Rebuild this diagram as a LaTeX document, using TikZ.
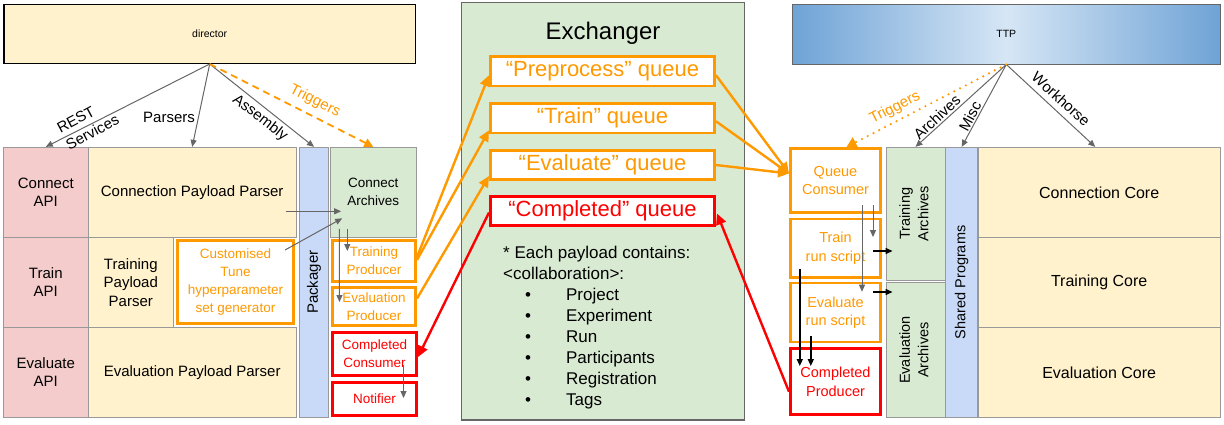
\documentclass[tikz,border=0pt]{standalone}
\usepackage{fontspec}
\setmainfont{Liberation Sans}
\usepackage{graphicx}
\usetikzlibrary{arrows.meta}

\definecolor{ordr}{HTML}{FF9900}
\definecolor{redq}{HTML}{FF0000}
\definecolor{cellline}{HTML}{999999}
\definecolor{arrgrey}{HTML}{666666}
\definecolor{apifill}{HTML}{F4CCCC}
\definecolor{yelfill}{HTML}{FFF2CC}
\definecolor{grnfill}{HTML}{D9EAD3}
\definecolor{blufill}{HTML}{C9DAF8}
\definecolor{ttpedge}{HTML}{6FA3D6}
\definecolor{ttpmid}{HTML}{D6E6F5}

\tikzset{
  wh/.style 2 args={minimum width=#1pt, minimum height=#2pt},
  cell/.style={draw=cellline, line width=0.9pt, inner sep=0pt, align=center,
    font=\fontsize{15}{18.5}\selectfont},
  obox/.style={draw=ordr, line width=2.6pt, fill=white, text=ordr, inner sep=0pt,
    align=center, font=\fontsize{13.5}{18}\selectfont},
  rbox/.style={obox, draw=redq, text=redq, line width=3pt},
  rcol/.style={font=\fontsize{14.5}{18.5}\selectfont},
  queue/.style={obox, wh={224.4}{29.4}, font=\fontsize{22}{24}\selectfont},
  lab/.style={inner sep=1pt, font=\fontsize{15}{19}\selectfont},
  garrow/.style={draw=arrgrey, line width=1pt, -{Triangle[length=7pt,width=6pt]}},
  karrow/.style={draw=black, line width=1.4pt, -{Triangle[length=7pt,width=6pt]}},
  oarrow/.style={draw=ordr, line width=2.4pt, -{Triangle[length=11pt,width=10pt]}},
  rarrow/.style={draw=redq, line width=2.4pt, -{Triangle[length=11pt,width=10pt]}}
}

\begin{document}
\begin{tikzpicture}[x=1pt, y=-1pt]
\useasboundingbox (0,0) rectangle (1224,424);

% director side
\node[draw=black, line width=1.3pt, fill=yelfill, wh={411.4}{58.7},
  font=\fontsize{10.5}{12}\selectfont] (director) at (209.7,34) {director};

\node[cell, fill=apifill, wh={85}{90}] (capi) at (45.8,192.3) {Connect\\API};
\node[cell, fill=yelfill, wh={207.7}{90}] (cpp) at (192.2,192.3) {Connection Payload Parser};
\node[cell, fill=apifill, wh={85}{90}] (tapi) at (45.8,282.3) {Train\\API};
\node[cell, fill=yelfill, wh={85}{90}] (tpp) at (130.8,282.3) {Training\\Payload\\Parser};
\node[obox, wh={116.4}{83.4}] (tune) at (235.5,282) {Customised\\Tune\\hyperparameter\\set generator};
\node[cell, fill=apifill, wh={85}{90}] (eapi) at (45.8,372.3) {Evaluate\\API};
\node[cell, fill=yelfill, wh={207.7}{90}] (epp) at (192.2,372.3) {Evaluation Payload Parser};

\node[cell, fill=blufill, wh={29.4}{270}] (pack) at (314,282.3) {\rotatebox{90}{Packager}};

\node[cell, fill=grnfill, wh={85.3}{90}, font=\fontsize{13.5}{18}\selectfont] (carch) at (373.3,192.3) {Connect\\Archives};
\node[obox, wh={83.4}{41.4}] (tprod) at (374,261) {Training\\Producer};
\node[obox, wh={83.4}{38.4}] (eprod) at (374,306.5) {Evaluation\\Producer};
\node[rbox, wh={84}{43}] (ccons) at (374.5,354) {Completed\\Consumer};
\node[rbox, wh={84}{33}] (notif) at (374.5,399) {Notifier};

% arrows from director
\draw[garrow] (director.south) -- (capi.north);
\draw[garrow] (director.south) -- (cpp.north);
\draw[garrow] (director.south) -- (pack.north);
\draw[draw=ordr, line width=1.8pt, dash pattern=on 7pt off 5pt,
  -{Triangle[length=9pt,width=9pt]}] (director.south) -- (carch.north);

\node[lab, rotate=28, align=left] (lrest) at (88,124) {REST\\Services};
\node[lab] (lpars) at (169,117) {Parsers};
\node[lab, rotate=-38] (lasm) at (260,118) {Assembly};
\node[lab, text=ordr, rotate=-27] (ltrig) at (315,101) {Triggers};

% packager internals
\draw[garrow] ([shift={(-11,19)}]cpp.east) -- ([shift={(11,19)}]carch.west);
\draw[garrow] ([shift={(-10,11)}]tune.north east) -- ([shift={(12,26)}]carch.west);
\draw[garrow] ([shift={(-34,-9)}]carch.south) -- ([shift={(8.5,-4.5)}]eprod.west);
\draw[garrow] ([shift={(-26,-9)}]carch.south) -- ([shift={(16.3,-10)}]tprod.west);
\draw[garrow] ([shift={(29,-12)}]ccons.south) -- ([shift={(29,-19)}]notif.south);

% exchanger
\node[draw=arrgrey, line width=1.2pt, fill=grnfill, wh={282.6}{417.3}] (exch) at (603,211.3) {};
\node[inner sep=0pt, font=\fontsize{24}{28}\selectfont] (exchtitle) at (603,33) {Exchanger};

\node[queue] (qpre) at (602.5,71.2) {“Preprocess” queue};
\node[queue] (qtrain) at (602.5,118.3) {“Train” queue};
\node[queue] (qeval) at (602.5,165) {“Evaluate” queue};
\node[queue, draw=redq, text=redq, line width=3pt, wh={224}{29}] (qcomp) at (602.5,210.5) {“Completed” queue};

\node[anchor=north west, align=left, inner sep=0pt, font=\fontsize{17}{21}\selectfont] (payload) at (503,245.5)
  {* Each payload contains:\\
   <collaboration>:\\
   \hspace*{22pt}\textbullet\hspace{35pt}Project\\
   \hspace*{22pt}\textbullet\hspace{35pt}Experiment\\
   \hspace*{22pt}\textbullet\hspace{35pt}Run\\
   \hspace*{22pt}\textbullet\hspace{35pt}Participants\\
   \hspace*{22pt}\textbullet\hspace{35pt}Registration\\
   \hspace*{22pt}\textbullet\hspace{35pt}Tags};

% TTP side
\node[draw=arrgrey, line width=0.9pt, left color=ttpedge, right color=ttpedge, middle color=ttpmid,
  wh={427.3}{60}, font=\fontsize{10.5}{12}\selectfont] (ttp) at (1006.3,34) {TTP};

\node[obox, rcol, wh={90.4}{64.4}] (qcons) at (835.5,180.5) {Queue\\Consumer};
\node[obox, rcol, wh={90.4}{58.9}] (trun) at (835.5,248.3) {Train\\run script};
\node[obox, rcol, wh={90.4}{59}] (erun) at (835.5,312.5) {Evaluate\\run script};
\node[rbox, rcol, wh={90}{65.7}] (cprod) at (835.5,381.7) {Completed\\Producer};

\node[cell, fill=grnfill, rcol, wh={59}{132.7}] (tarch) at (915.5,213.7)
  {\rotatebox{90}{\begin{tabular}{@{}c@{}}Training\\Archives\end{tabular}}};
\node[cell, fill=grnfill, rcol, wh={59}{134.8}] (earch) at (915.5,350.1)
  {\rotatebox{90}{\begin{tabular}{@{}c@{}}Evaluation\\Archives\end{tabular}}};
\node[cell, fill=blufill, rcol, wh={32}{270.2}] (shared) at (961.7,282.4) {\rotatebox{90}{Shared Programs}};

\node[cell, fill=yelfill, wh={241.7}{90}, font=\fontsize{16}{19}\selectfont] (ccore) at (1099.2,192.3) {Connection Core};
\node[cell, fill=yelfill, wh={241.7}{90}, font=\fontsize{16}{19}\selectfont] (tcore) at (1099.2,282.3) {Training Core};
\node[cell, fill=yelfill, wh={241.7}{90.2}, font=\fontsize{16}{19}\selectfont] (ecore) at (1099.2,372.4) {Evaluation Core};

% arrows from TTP
\draw[garrow] (ttp.south) -- (tarch.north);
\draw[garrow] (ttp.south) -- (shared.north);
\draw[garrow] (ttp.south) -- ([shift={(-4,0)}]ccore.north);
\draw[draw=ordr, line width=2.4pt, line cap=round, dash pattern=on 0pt off 6.5pt,
  -{Triangle[length=10pt,width=11pt]}] (ttp.south) -- ([shift={(11,0)}]qcons.north);

\node[lab, text=ordr, rotate=27] (rtrig) at (895,108) {Triggers};
\node[lab, rotate=43] (rarch) at (937,117) {Archives};
\node[lab, rotate=62] (rmisc) at (970,116) {Misc};
\node[lab, rotate=-42] (rwork) at (1061,99) {Workhorse};

% run scripts
\draw[garrow] ([shift={(37.5,-9)}]qcons.south) -- ([shift={(37.5,19.5)}]trun.north);
\draw[garrow] ([shift={(26.5,-9)}]qcons.south) -- ([shift={(26.5,10)}]erun.north);
\draw[karrow] ([shift={(-9,2.7)}]trun.east) -- ([shift={(7,37.3)}]tarch.west);
\draw[karrow] ([shift={(-9,-20.5)}]erun.east) -- ([shift={(7,-58.1)}]earch.west);
\draw[karrow] ([shift={(-35.7,-10)}]trun.south) -- ([shift={(-35.7,18.7)}]cprod.north);
\draw[karrow] ([shift={(-24.7,-7.3)}]erun.south) -- ([shift={(-24.7,18.7)}]cprod.north);

% queues in and out
\draw[oarrow] ([shift={(0,-4)}]tprod.east) -- ([shift={(0,4)}]qpre.west);
\draw[oarrow] ([shift={(0,-1)}]tprod.east) -- ([shift={(0,12)}]qtrain.west);
\draw[oarrow] ([shift={(0,-8)}]eprod.east) -- ([shift={(0,11)}]qeval.west);
\draw[rarrow] ([shift={(0,2)}]qcomp.west) -- ([shift={(0,3)}]ccons.east);

\draw[oarrow] ([shift={(0,4)}]qpre.east) -- ([shift={(0,-7)}]qcons.west);
\draw[oarrow] ([shift={(0,3)}]qtrain.east) -- ([shift={(0,-7)}]qcons.west);
\draw[oarrow] (qeval.east) -- ([shift={(0,-7)}]qcons.west);
\draw[rarrow] ([shift={(0,10)}]cprod.west) -- ([shift={(1,3)}]qcomp.east);
\end{tikzpicture}
\end{document}
